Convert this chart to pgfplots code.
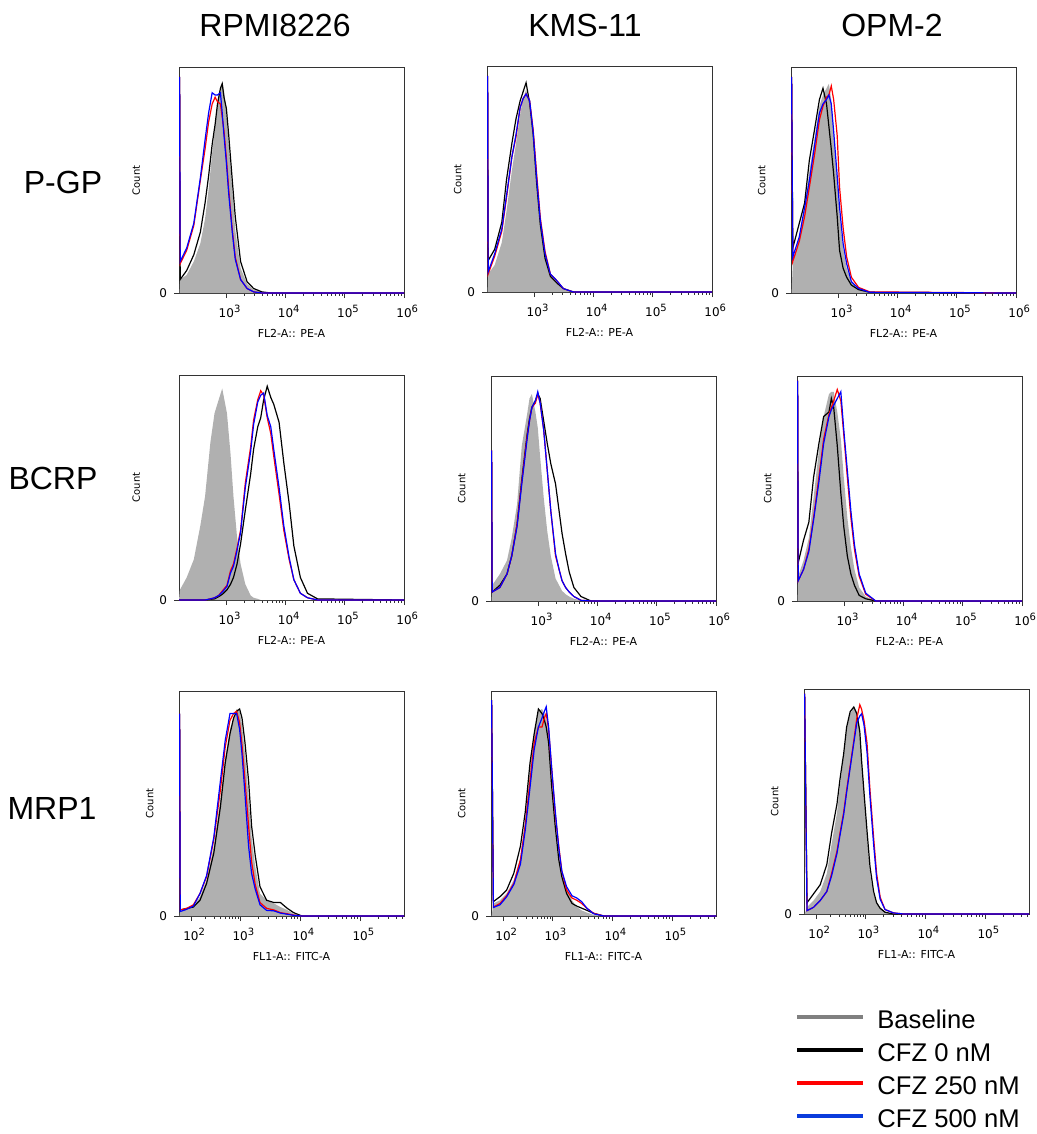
\documentclass[border=0pt]{standalone}
\usepackage{fontspec}
\setmainfont{Liberation Sans}
\newfontfamily\lucida{DejaVu Sans}
\usepackage{pgfplots}
\usepackage{pgfplotstable}
\pgfplotsset{compat=1.18}

\definecolor{basefill}{RGB}{176,176,176}
\definecolor{basegray}{RGB}{128,128,128}
\definecolor{cfzred}{RGB}{255,0,0}
\definecolor{cfzblue}{RGB}{0,0,255}
\definecolor{legblue}{RGB}{10,60,220}

% x = position on the display axis, in decades (3 = 10^3); y = % of panel height
\pgfplotstableread{
u base c0 c250 c500
2.21 0 96 96 96
2.22 6 6 13 14
2.33 8 10 19 20
2.45 14 17 30 31
2.56 22 27 50 51
2.64 33 40 64 68
2.70 46 52 76 80
2.76 62 66 84 89
2.81 74 75 87 88
2.85 84 84 85 88
2.90 91 91 84 89
2.93 94 93 78 80
2.96 90 87 72 70
3.00 80 82 60 58
3.04 66 70 46 44
3.10 46 50 28 27
3.15 28 34 16 15
3.24 11 14 6 6
3.35 4 5 2 2
3.46 1.5 2 0.5 0.5
3.60 0.3 0.5 0 0
3.75 0 0 0 0
6.00 0 0 0 0
}\pgpR

\pgfplotstableread{
u base c0 c250 c500
2.21 0 96 96 96
2.22 8 14 8 9
2.33 12 19 16 17
2.45 22 31 27 28
2.53 36 50 42 43
2.62 54 66 60 60
2.69 66 77 69 70
2.76 79 85 82 82
2.81 86 89 86 86
2.86 90 93 88 88
2.92 84 84 85 85
2.98 70 70 72 71
3.04 47 48 52 50
3.10 29 30 33 32
3.18 16 15 18 17
3.27 8 7 8 8
3.38 4 4 5 5
3.49 1 1.5 1.5 1.5
3.66 0 0 0 0
6.00 0 0 0 0
}\pgpK

\pgfplotstableread{
u base c0 c250 c500
2.21 0 96 96 96
2.23 13 20 14 16
2.34 25 31 23 25
2.43 37 40 34 38
2.51 54 59 47 50
2.60 69 73 62 66
2.68 83 86 77 80
2.74 88 91 83 84
2.80 91 84 87 86
2.84 93 74 88 88
2.88 86 64 92 84
2.92 72 53 86 72
2.98 50 34 70 52
3.02 35 19 47 38
3.08 20 11 29 22
3.14 11 7 16 13
3.22 5 3.5 7 5
3.34 1.5 1.5 2.5 2
3.53 0 0.3 0.5 0.3
6.00 0 0 0 0
}\pgpO

\pgfplotstableread{
u base c0 c250 c500
2.20 0 0 0 0
2.215 4.5 0 0 0
2.33 10 0 0 0
2.45 18 0 0 0
2.56 33 0 0 0
2.64 46 0 0 0
2.73 70 0.3 0.5 0.5
2.80 83 0.5 1 1
2.87 89 1.5 2 2
2.93 94 2.5 4 3.5
3.01 83 4.5 6.5 6
3.07 65 7 13 12
3.12 46 10 16 15
3.18 28 16 23 22
3.24 16 25 31 30
3.32 7 40 52 50
3.41 2 56 68 66
3.46 1 67 80 78
3.53 0.5 77 89 88
3.58 0 81 93 91
3.63 0 89 91 92
3.69 0 95 81 82
3.75 0 90 74 77
3.80 0 87 64 67
3.89 0 79 47 50
3.97 0 61 31 33
4.06 0 43 18 19
4.14 0 24 9 9
4.25 0 10 3 3
4.37 0 3 1 1
4.54 0 0.5 0 0
6.00 0 0 0 0
}\bcrpR

\pgfplotstableread{
u base c0 c250 c500
2.21 0 67 67 67
2.22 7 4 4 4
2.35 12 7 6 6
2.47 18 12 12 12
2.55 28 20 20 20
2.64 43 34 34 33
2.72 69 54 53 52
2.81 83 74 73 72
2.85 90 81 80 80
2.89 92 86 86 86
2.95 84 89 88 89
2.99 77 92 92 93
3.03 64 90 88 88
3.09 46 80 76 76
3.15 31 70 58 58
3.21 20 61 40 40
3.29 10 52 20 21
3.35 7 40 14 14
3.40 4.5 30 9 9
3.46 3 21 6 6
3.52 2 13 4 4
3.60 1 6 2 2
3.72 0.3 2 0.3 0.3
3.89 0 0 0 0
6.00 0 0 0 0
}\bcrpK

\pgfplotstableread{
u base c0 c250 c500
2.21 0 98 98 98
2.22 11 17 9 9
2.31 18 27 14 14
2.40 28 35 23 22
2.48 46 55 37 36
2.57 67 70 55 53
2.65 82 82 72 70
2.74 92 84 83 82
2.78 93 90 86 85
2.82 93 86 89 87
2.88 84 69 94 90
2.94 72 48 89 93
2.99 55 33 74 76
3.05 37 20 55 58
3.11 24 12 37 40
3.17 14 7 23 25
3.25 6 2.5 11 12
3.36 2 1 3 3.5
3.53 0 0 0 0
6.00 0 0 0 0
}\bcrpO

\pgfplotstableread{
u base c0 c250 c500
1.99 0 90 90 90
2.00 2 2.7 2.7 2
2.11 3.4 3.4 3.4 3
2.22 4 4 5 4.4
2.33 8.6 7 10 10
2.44 16 14.5 17.5 18
2.56 31 28 34 35
2.67 52 48.5 56 60
2.75 70 68 75 78
2.83 83 81 87 90
2.89 88 88 90 90
2.94 92 91 91 90
2.99 91 92 86 83
3.03 85 88 76 72
3.08 72 77 60 54
3.14 53 60 40 31
3.19 35 40 24 19
3.25 22 27 14 12
3.33 10 13 6 5
3.44 7 7 3.4 2.5
3.56 5.6 6 2.7 2.3
3.67 4 6 1.5 1.3
3.78 2.7 3.5 1 0.8
3.89 1 1.5 0.4 0.3
4.03 0 0 0 0
5.73 0 0 0 0
}\mrpR

\pgfplotstableread{
u base c0 c250 c500
1.99 0 96 96 96
2.02 5.6 6.4 4 3.8
2.13 7 8.6 5.6 5
2.24 10 11.5 9 8.5
2.36 16 19 14.5 14
2.47 26 31 25 23
2.55 43 46 40 38
2.63 66 68 60 57
2.70 82.5 81 77 74
2.77 91 92 84 84
2.83 92 90 84 88
2.87 90 87 88 91
2.90 87 84 90 93
2.94 81 77 83 84
2.99 60 58 66 66
3.05 40 40 45.5 47
3.11 25 25 31 30
3.16 18 17.5 20 20
3.24 13 10 11.5 13
3.33 7 5.6 8 9
3.41 4 4.4 7 8
3.49 2.5 3.5 5.6 6.4
3.58 1.5 2.5 3.4 3.4
3.69 0.5 1.2 1.2 1
3.86 0 0 0 0
5.73 0 0 0 0
}\mrpK

\pgfplotstableread{
u base c0 c250 c500
1.99 0 98 98 98
2.03 3 5 1.5 1.5
2.14 6 9 3 3
2.25 10 13 6 6
2.36 18 22 10 10
2.44 31 36 18 17
2.53 45 49 28 27
2.58 57 60 36 35
2.64 70 71 45 44
2.69 82 83 55 54
2.75 89 90 66 65
2.81 92 92 77 76
2.86 90 89 87 85
2.91 83 81 93 88
2.94 69 68 91 89
2.98 55 54 86 84
3.03 35 37 76 72
3.08 18 21 55 52
3.14 9 10 34 31
3.19 5 5 18 16
3.25 3 2.5 7.4 6.5
3.33 1 0.8 2 2
3.47 0 0 0.5 0.5
3.64 0 0 0 0
5.73 0 0 0 0
}\mrpO

\pgfplotsset{
  flow/.style={
    scale only axis, width=112.5pt, height=112.5pt,
    anchor=north west,
    ymin=0, ymax=100, ytick={0}, yticklabels={0},
    tick pos=left, tick align=outside,
    major tick length=2.5pt, minor tick length=1.3pt,
    axis line style={black!80, line width=0.5pt},
    tick style={black!80, line width=0.4pt},
    tick label style={font=\lucida\fontsize{6}{7}\selectfont},
    xlabel style={font=\lucida\fontsize{5.5}{6.5}\selectfont,
      at={(axis description cs:0.5,-0.18)}, anchor=center},
    ylabel={Count},
    ylabel style={font=\lucida\fontsize{5}{6}\selectfont,
      at={(axis description cs:-0.13,0.5)}, anchor=center},
  },
  pe/.style={flow, xmin=2.2, xmax=6,
    xtick={3,4,5,6},
    xticklabels={10\rlap{\textsuperscript{3}},10\rlap{\textsuperscript{4}},
      10\rlap{\textsuperscript{5}},10\rlap{\textsuperscript{6}}},
    minor xtick={3.301,3.477,3.602,3.699,3.778,3.845,3.903,3.954,
      4.301,4.477,4.602,4.699,4.778,4.845,4.903,4.954,
      5.301,5.477,5.602,5.699,5.778,5.845,5.903,5.954},
    xlabel={FL2-A:: PE-A}},
  fitc/.style={flow, xmin=1.98, xmax=5.73,
    xtick={2.18,3,4,5},
    xticklabels={10\rlap{\textsuperscript{2}},10\rlap{\textsuperscript{3}},
      10\rlap{\textsuperscript{4}},10\rlap{\textsuperscript{5}}},
    minor xtick={2.427,2.571,2.674,2.753,2.818,2.873,2.920,2.962,
      3.301,3.477,3.602,3.699,3.778,3.845,3.903,3.954,
      4.301,4.477,4.602,4.699,4.778,4.845,4.903,4.954,
      5.301,5.477,5.602,5.699},
    xlabel={FL1-A:: FITC-A}},
  wide/.style={ylabel style={at={(axis description cs:-0.19,0.5)}}},
}

\newcommand{\curves}[1]{%
  \addplot[fill=basefill, draw=none] table[x=u, y=base] {#1} \closedcycle;
  \addplot[black, line width=0.6pt] table[x=u, y=c0] {#1};
  \addplot[cfzred, line width=0.6pt] table[x=u, y=c250] {#1};
  \addplot[cfzblue, line width=0.6pt] table[x=u, y=c500] {#1};
}

\begin{document}
\begin{tikzpicture}
\path[use as bounding box] (0,0) rectangle (518.5pt,-567pt);

\begin{scope}[font=\fontsize{16}{19}\selectfont]
  \node at (137.5pt,-12.5pt) {RPMI8226};
  \node at (292.5pt,-12.5pt) {KMS-11};
  \node at (446pt,-12.5pt) {OPM-2};
  \node at (31.5pt,-91pt) {P-GP};
  \node at (26.5pt,-239pt) {BCRP};
  \node at (26pt,-404pt) {MRP1};
\end{scope}

% P-GP
\begin{axis}[pe, wide, at={(89.5pt,-34pt)}]
  \curves{\pgpR}
\end{axis}
\begin{axis}[pe, at={(243.5pt,-33.5pt)}]
  \curves{\pgpK}
\end{axis}
\begin{axis}[pe, at={(395.5pt,-34pt)}]
  \curves{\pgpO}
\end{axis}

% BCRP
\begin{axis}[pe, wide, at={(89.5pt,-187.5pt)}]
  \curves{\bcrpR}
\end{axis}
\begin{axis}[pe, at={(245.5pt,-188pt)}]
  \curves{\bcrpK}
\end{axis}
\begin{axis}[pe, at={(398.5pt,-188pt)}]
  \curves{\bcrpO}
\end{axis}

% MRP1
\begin{axis}[fitc, at={(89.5pt,-345.5pt)}]
  \curves{\mrpR}
\end{axis}
\begin{axis}[fitc, at={(245.5pt,-345.5pt)}]
  \curves{\mrpK}
\end{axis}
\begin{axis}[fitc, at={(402pt,-344.5pt)},
    legend image code/.code={\draw[#1, line width=2pt] (0pt,1pt) -- (33pt,1pt);},
    legend cell align=left,
    legend style={at={(axis description cs:-0.04,-0.416)}, anchor=north west,
      draw=none, fill=none, inner sep=0pt,
      font=\fontsize{12.8}{15}\selectfont,
      nodes={inner sep=1pt, text height=9.2pt, text depth=0pt},
      row sep=5.3pt,
      /tikz/every odd column/.append style={column sep=5pt}}]
  \addlegendimage{basegray}
  \addlegendimage{black}
  \addlegendimage{cfzred}
  \addlegendimage{legblue}
  \curves{\mrpO}
  \legend{Baseline, CFZ 0 nM, CFZ 250 nM, CFZ 500 nM}
\end{axis}
\end{tikzpicture}
\end{document}
